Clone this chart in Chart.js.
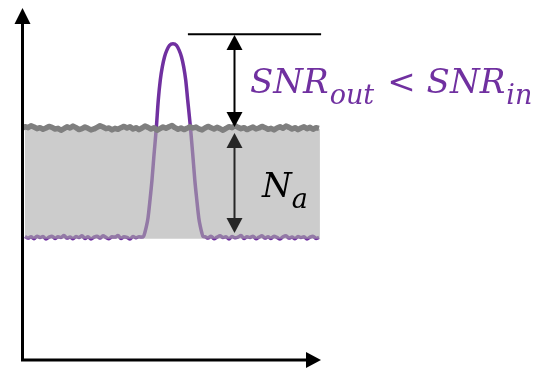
<!DOCTYPE html>
<html>
<head>
<meta charset="utf-8">
<script src="https://cdn.jsdelivr.net/npm/chart.js@4.4.0/dist/chart.umd.min.js"></script>
<style>
  html, body { margin: 0; padding: 0; background: #fff; }
  .graph-box { position: relative; width: 537px; height: 369px; }
</style>
</head>
<body>
<div class="graph-box"><canvas id="snrChart"></canvas></div>
<script>
// upper edge of the noise band, one sample per x step (x = 0..99)
const noiseTop = [
  72.4, 72.9, 72.6, 73.2, 72.8, 72.3, 72.6, 72.1, 72.5, 73.0,
  72.7, 72.2, 72.4, 71.8, 72.3, 72.9, 72.5, 73.1, 72.6, 72.0,
  72.3, 72.8, 72.4, 71.9, 72.2, 72.7, 73.2, 72.8, 72.3, 72.5,
  71.9, 72.4, 72.1, 72.6, 73.0, 72.5, 72.9, 72.2, 72.6, 72.0,
  72.5, 73.1, 72.7, 72.2, 72.6, 71.8, 72.3, 72.8, 72.4, 72.9,
  73.3, 72.6, 72.1, 72.5, 72.0, 72.4, 72.9, 72.5, 72.8, 72.2,
  71.9, 72.5, 73.0, 72.6, 72.2, 72.7, 72.3, 71.8, 72.4, 72.9,
  72.6, 73.2, 72.7, 72.3, 72.6, 72.0, 72.4, 72.8, 72.2, 72.5,
  73.0, 72.6, 72.1, 72.4, 71.9, 72.5, 72.9, 72.4, 73.1, 72.7,
  72.2, 72.6, 72.0, 72.5, 72.9, 72.3, 72.7, 72.1, 72.6, 72.4
];

// purple trace, flat floor left of the pulse (x = 1..40)
const signalLeft = [
  38.6, 38.1, 38.5, 37.9, 38.7, 38.3, 38.6, 37.8, 38.4, 38.7,
  38.0, 38.5, 38.3, 38.9, 38.1, 38.4, 37.9, 38.6, 38.3, 38.8,
  38.0, 38.5, 37.8, 38.4, 38.7, 38.1, 38.8, 38.3, 37.9, 38.5,
  38.4, 38.9, 38.0, 38.5, 38.3, 37.8, 38.6, 38.2, 38.5, 38.4
];

// the pulse
const pulseX = [
  40.5, 41.0, 41.5, 42.0, 42.67, 43.33, 44.0, 44.77, 45.43, 46.1,
  46.77, 47.5, 48.33, 49.17, 50.33, 51.5, 52.33, 53.17, 53.9, 54.57,
  55.23, 56.17, 56.93, 57.6, 58.27, 58.93, 59.4, 59.87, 60.33
];
const pulseY = [
  38.6, 40.0, 41.9, 44.4, 50.0, 56.25, 64.1, 72.5, 81.25, 87.5,
  91.6, 94.7, 96.9, 98.3, 98.8, 98.3, 96.9, 94.7, 91.6, 87.5,
  81.25, 72.5, 64.1, 56.25, 50.0, 44.4, 41.9, 40.0, 38.6
];

// purple trace, flat floor right of the pulse (x = 61..99)
const signalRight = [
  38.5, 38.1, 38.7, 37.9, 38.4, 38.8, 38.3, 38.5, 37.8, 38.6,
  38.2, 38.4, 38.9, 38.0, 38.5, 38.3, 38.7, 37.9, 38.4, 38.8,
  38.1, 38.5, 38.0, 38.7, 38.3, 37.8, 38.5, 38.8, 38.1, 38.4,
  37.9, 38.6, 38.3, 38.5, 37.8, 38.4, 38.7, 38.0, 38.3
];

// shaded noise band
const bandTop = 72.3;
const bandBottom = 37.9;
const bandStart = 1;
const bandEnd = 99.3;

// reference line at the pulse peak and the two dimension arrows
const refLevel = 101.8;
const refStart = 55.3;
const refEnd = 99.7;
const arrowX = 70.8;
const snrArrow = [101.6, 72.8];
const noiseArrow = [70.9, 39.7];

// label anchors (left edge, baseline)
const snrLabelAt = [76, 83.4];
const naLabelAt = [80, 50.9];

const PURPLE = '#7030a0';

const noisePoints = noiseTop.map((y, i) => ({ x: i, y }));
noisePoints.push({ x: bandEnd, y: noiseTop[noiseTop.length - 1] });

const signalPoints = [
  ...signalLeft.map((y, i) => ({ x: i + 1, y })),
  ...pulseX.map((x, i) => ({ x, y: pulseY[i] })),
  ...signalRight.map((y, i) => ({ x: i + 61, y }))
];

function arrowHead(ctx, x, tipY, dir) {
  // dir = -1 points up, 1 points down
  ctx.beginPath();
  ctx.moveTo(x, tipY);
  ctx.lineTo(x - 8, tipY - dir * 15);
  ctx.lineTo(x + 8, tipY - dir * 15);
  ctx.closePath();
  ctx.fill();
}

function doubleArrow(ctx, x, yTop, yBottom, color) {
  ctx.strokeStyle = color;
  ctx.fillStyle = color;
  ctx.lineWidth = 2;
  ctx.beginPath();
  ctx.moveTo(x, yTop + 10);
  ctx.lineTo(x, yBottom - 10);
  ctx.stroke();
  arrowHead(ctx, x, yTop, -1);
  arrowHead(ctx, x, yBottom, 1);
}

// draws a base + subscript pair, returns x after it
function subscripted(ctx, x, y, base, sub, color, gap) {
  ctx.fillStyle = color;
  ctx.font = 'italic 34px "DejaVu Serif"';
  ctx.fillText(base, x, y);
  x += ctx.measureText(base).width + gap;
  ctx.font = 'italic 27px "DejaVu Serif"';
  ctx.fillText(sub, x, y + 11);
  return x + ctx.measureText(sub).width;
}

const annotations = {
  id: 'annotations',
  afterDraw(chart) {
    const { ctx, chartArea: area, scales: { x: xs, y: ys } } = chart;
    ctx.save();

    // axes with arrow heads
    ctx.strokeStyle = '#000';
    ctx.fillStyle = '#000';
    ctx.lineWidth = 3;
    ctx.beginPath();
    ctx.moveTo(area.left + 0.5, area.bottom + 1.5);
    ctx.lineTo(area.left + 0.5, area.top + 12);
    ctx.moveTo(area.left - 1, area.bottom);
    ctx.lineTo(area.right - 14, area.bottom);
    ctx.stroke();
    ctx.beginPath();
    ctx.moveTo(area.left + 0.5, area.top);
    ctx.lineTo(area.left - 7.5, area.top + 16);
    ctx.lineTo(area.left + 8.5, area.top + 16);
    ctx.closePath();
    ctx.fill();
    ctx.beginPath();
    ctx.moveTo(area.right - 1, area.bottom);
    ctx.lineTo(area.right - 16, area.bottom - 8);
    ctx.lineTo(area.right - 16, area.bottom + 8);
    ctx.closePath();
    ctx.fill();

    // peak reference line
    ctx.lineWidth = 2;
    ctx.beginPath();
    ctx.moveTo(xs.getPixelForValue(refStart), ys.getPixelForValue(refLevel));
    ctx.lineTo(xs.getPixelForValue(refEnd), ys.getPixelForValue(refLevel));
    ctx.stroke();

    const ax = Math.round(xs.getPixelForValue(arrowX)) + 0.5;
    doubleArrow(ctx, ax, ys.getPixelForValue(snrArrow[0]), ys.getPixelForValue(snrArrow[1]), '#000');
    doubleArrow(ctx, ax, ys.getPixelForValue(noiseArrow[0]), ys.getPixelForValue(noiseArrow[1]), '#262626');

    // labels
    ctx.textBaseline = 'alphabetic';
    let tx = xs.getPixelForValue(snrLabelAt[0]);
    const ty = ys.getPixelForValue(snrLabelAt[1]);
    tx = subscripted(ctx, tx, ty, 'SNR', 'out', PURPLE, 1);
    ctx.font = '34px "DejaVu Serif"';
    ctx.fillText('<', tx + 13, ty);
    tx += 13 + ctx.measureText('<').width + 11;
    subscripted(ctx, tx, ty, 'SNR', 'in', PURPLE, 1);

    subscripted(ctx, xs.getPixelForValue(naLabelAt[0]), ys.getPixelForValue(naLabelAt[1]), 'N', 'a', '#000', 0);

    ctx.restore();
  }
};

const ctx = document.getElementById('snrChart').getContext('2d');
new Chart(ctx, {
  type: 'line',
  data: {
    datasets: [
      {
        label: 'noise',
        data: noisePoints,
        borderColor: '#7f7f7f',
        borderWidth: 5.5,
        borderJoinStyle: 'round',
        tension: 0,
        fill: false,
        order: 0
      },
      {
        label: 'band',
        data: [{ x: bandStart, y: bandTop }, { x: bandEnd, y: bandTop }],
        borderWidth: 0,
        borderColor: 'rgba(0,0,0,0)',
        backgroundColor: 'rgba(170,170,170,0.6)',
        fill: { value: bandBottom },
        order: 1
      },
      {
        label: 'signal',
        data: signalPoints,
        borderColor: PURPLE,
        borderWidth: 3.5,
        cubicInterpolationMode: 'monotone',
        fill: false,
        order: 2
      }
    ]
  },
  options: {
    responsive: true,
    maintainAspectRatio: false,
    animation: false,
    layout: { padding: { left: 22, right: 215, top: 8, bottom: 9 } },
    elements: { point: { radius: 0 } },
    scales: {
      x: { type: 'linear', min: 0, max: 100, display: false },
      y: { min: 0, max: 110, display: false }
    },
    plugins: {
      legend: { display: false },
      tooltip: { enabled: false }
    }
  },
  plugins: [annotations]
});
</script>
</body>
</html>
